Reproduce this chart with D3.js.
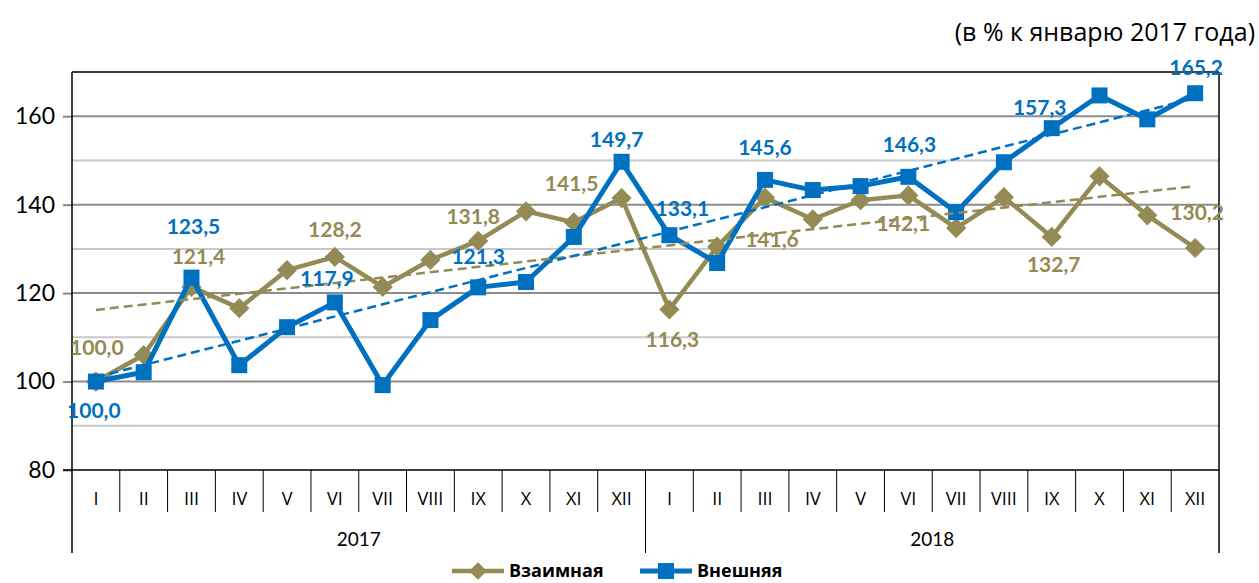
<!DOCTYPE html>
<html>
<head>
<meta charset="utf-8">
<style>
    body { margin: 0; background: #fff; }
    svg { display: block; }
    .num { font-family: Lato, "Open Sans", sans-serif; }
    .cyr { font-family: "Open Sans", sans-serif; }
    .y .tick text { font-size: 23px; fill: #000; }
    .y .domain { display: none; }
    .y .tick line { stroke: #888; stroke-width: 2; }
    .month { font-size: 18px; fill: #000; }
    .year { font-size: 19px; fill: #000; }
    .dlabel { font-size: 21px; font-weight: bold; }
    .legend-text { font-size: 18px; font-weight: bold; fill: #000; }
</style>
</head>
<body>
<svg width="1259" height="583"></svg>

<script src="https://d3js.org/d3.v7.min.js"></script>
<script>

// months and years on the category axis
let months = ["I", "II", "III", "IV", "V", "VI", "VII", "VIII", "IX", "X", "XI", "XII"]
let years = ["2017", "2018"]

// values, % of January 2017
let vzaimnaya = [100.0, 106.0, 121.4, 116.6, 125.2, 128.2, 121.4, 127.5, 131.8, 138.5, 136.0, 141.5,
                 116.3, 130.5, 141.6, 136.7, 141.0, 142.1, 134.7, 141.7, 132.7, 146.4, 137.6, 130.2]
let vneshnyaya = [100.0, 102.1, 123.5, 103.7, 112.3, 117.9, 99.2, 113.9, 121.3, 122.5, 132.7, 149.7,
                  133.1, 126.8, 145.6, 143.3, 144.2, 146.3, 138.3, 149.6, 157.3, 164.7, 159.3, 165.2]

// trend lines (start and end value)
let trendVzaimnaya = [116.2, 144.2]
let trendVneshnyaya = [101.0, 164.1]

// which points get a value label
let labelled = [0, 2, 5, 8, 11, 12, 14, 17, 20, 23]

let yTicks = [80, 100, 120, 140, 160]
let yMinor = [90, 110, 130, 150]

let seriesNames = ["Взаимная", "Внешняя"]
let unitText = "(в % к январю 2017 года)"

// label offsets from the point (dx, dy)
let offVz = [[1, -34], [7, -30], [0, -27], [-5, -24], [-50, -14], [3, 30], [7, 42], [-5, 28], [2, 28], [2, -35]]
let offVn = [[-2, 29], [2, -51], [-8, -24], [0, -31], [-5, -22], [13, -27], [0, -32], [1, -32], [-12, -21], [1, -26]]

let olive = "#948A54"
let blue = "#0070C0"

let svg = d3.select("svg")
let margin = { top: 72, left: 72, right: 1219, bottom: 470 }

let cats = d3.range(years.length * months.length)
let x = d3.scaleBand().domain(cats).range([margin.left, margin.right])
let y = d3.scaleLinear().domain([80, 170]).range([margin.bottom, margin.top])
let cx = i => x(i) + x.bandwidth() / 2

// gridlines
svg.append("g")
    .selectAll("line")
    .data(yMinor)
    .join("line")
    .attr("x1", margin.left).attr("x2", margin.right)
    .attr("y1", d => y(d)).attr("y2", d => y(d))
    .attr("stroke", "#c8c8c8").attr("stroke-width", 2)

svg.append("g")
    .selectAll("line")
    .data(yTicks.filter(d => d > 80))
    .join("line")
    .attr("x1", margin.left).attr("x2", margin.right)
    .attr("y1", d => y(d)).attr("y2", d => y(d))
    .attr("stroke", "#8c8c8c").attr("stroke-width", 2)

// y axis
svg.append("g")
    .attr("class", "y num")
    .attr("transform", `translate(${margin.left},0)`)
    .call(d3.axisLeft(y).tickValues(yTicks).tickSize(9).tickPadding(8))

// frame
svg.append("line")
    .attr("x1", margin.left).attr("x2", margin.right)
    .attr("y1", y(170)).attr("y2", y(170))
    .attr("stroke", "#000").attr("stroke-width", 1.5)
svg.append("line")
    .attr("x1", margin.right).attr("x2", margin.right)
    .attr("y1", y(170)).attr("y2", 553)
    .attr("stroke", "#000").attr("stroke-width", 1.5)
svg.append("line")
    .attr("x1", margin.left).attr("x2", margin.left)
    .attr("y1", y(170)).attr("y2", 553)
    .attr("stroke", "#000").attr("stroke-width", 1.5)
svg.append("line")
    .attr("x1", margin.left - 9).attr("x2", margin.right)
    .attr("y1", y(80)).attr("y2", y(80))
    .attr("stroke", "#000").attr("stroke-width", 1.5)

// category axis
let catAxis = svg.append("g")
catAxis.selectAll("line")
    .data(cats.slice(1))
    .join("line")
    .attr("x1", d => x(d)).attr("x2", d => x(d))
    .attr("y1", y(80)).attr("y2", d => d % 12 == 0 ? 553 : 512)
    .attr("stroke", "#000").attr("stroke-width", 1)

catAxis.selectAll("text.month")
    .data(cats)
    .join("text")
    .attr("class", "month cyr")
    .attr("x", d => cx(d))
    .attr("y", 505)
    .attr("text-anchor", "middle")
    .text(d => months[d % 12])

catAxis.selectAll("text.year")
    .data(years)
    .join("text")
    .attr("class", "year num")
    .attr("x", (d, i) => (x(i * 12) + x(i * 12 + 11) + x.bandwidth()) / 2)
    .attr("y", 546)
    .attr("text-anchor", "middle")
    .text(d => d)

// unit
svg.append("text")
    .attr("class", "cyr")
    .attr("x", 1255).attr("y", 41)
    .attr("text-anchor", "end")
    .style("font-size", "25px")
    .text(unitText)

// trend lines
let trendLine = d3.line().x(d => cx(d[0])).y(d => y(d[1]))

function drawSeries(values, color, marker) {
    let line = d3.line().x((d, i) => cx(i)).y(d => y(d))
    svg.append("path")
        .datum(values)
        .attr("fill", "none")
        .attr("stroke", color)
        .attr("stroke-width", marker == "square" ? 5 : 4.5)
        .attr("stroke-linejoin", "round")
        .attr("d", line)

    if (marker == "square") {
        svg.append("g").selectAll("rect")
            .data(values)
            .join("rect")
            .attr("x", (d, i) => cx(i) - 8)
            .attr("y", d => y(d) - 8)
            .attr("width", 16).attr("height", 16)
            .attr("fill", color)
    } else {
        svg.append("g").selectAll("path")
            .data(values)
            .join("path")
            .attr("d", d3.symbol().type(d3.symbolDiamond2).size(260))
            .attr("transform", (d, i) => `translate(${cx(i)},${y(d)})`)
            .attr("fill", color)
    }
}

drawSeries(vzaimnaya, olive, "diamond")
drawSeries(vneshnyaya, blue, "square")

svg.append("path")
    .datum([[0, trendVzaimnaya[0]], [23, trendVzaimnaya[1]]])
    .attr("fill", "none").attr("stroke", olive)
    .attr("stroke-width", 2.5).attr("stroke-dasharray", "9,5")
    .attr("d", trendLine)

svg.append("path")
    .datum([[0, trendVneshnyaya[0]], [23, trendVneshnyaya[1]]])
    .attr("fill", "none").attr("stroke", blue)
    .attr("stroke-width", 2.5).attr("stroke-dasharray", "9,5")
    .attr("d", trendLine)

// value labels
let fmt = v => v.toFixed(1).replace(".", ",")

function drawLabels(values, offsets, color) {
    svg.append("g").selectAll("text")
        .data(labelled)
        .join("text")
        .attr("class", "dlabel num")
        .attr("x", (d, k) => cx(d) + offsets[k][0])
        .attr("y", (d, k) => y(values[d]) + offsets[k][1])
        .attr("dy", "0.35em")
        .attr("text-anchor", "middle")
        .attr("fill", color)
        .text(d => fmt(values[d]))
}

drawLabels(vzaimnaya, offVz, olive)
drawLabels(vneshnyaya, offVn, blue)

// legend
let legend = svg.append("g")
let legendY = 571
let legendItems = [
    { name: seriesNames[0], color: olive, marker: "diamond", x0: 452 },
    { name: seriesNames[1], color: blue, marker: "square", x0: 640 }
]
legendItems.forEach(item => {
    legend.append("line")
        .attr("x1", item.x0).attr("x2", item.x0 + 52)
        .attr("y1", legendY).attr("y2", legendY)
        .attr("stroke", item.color).attr("stroke-width", item.marker == "square" ? 5 : 4.5)
    if (item.marker == "square") {
        legend.append("rect")
            .attr("x", item.x0 + 26 - 8).attr("y", legendY - 8)
            .attr("width", 16).attr("height", 16)
            .attr("fill", item.color)
    } else {
        legend.append("path")
            .attr("d", d3.symbol().type(d3.symbolDiamond2).size(200))
            .attr("transform", `translate(${item.x0 + 26},${legendY})`)
            .attr("fill", item.color)
    }
    legend.append("text")
        .attr("class", "legend-text cyr")
        .attr("x", item.x0 + 57).attr("y", legendY)
        .attr("dy", "0.35em")
        .text(item.name)
})

</script>
</body>
</html>
